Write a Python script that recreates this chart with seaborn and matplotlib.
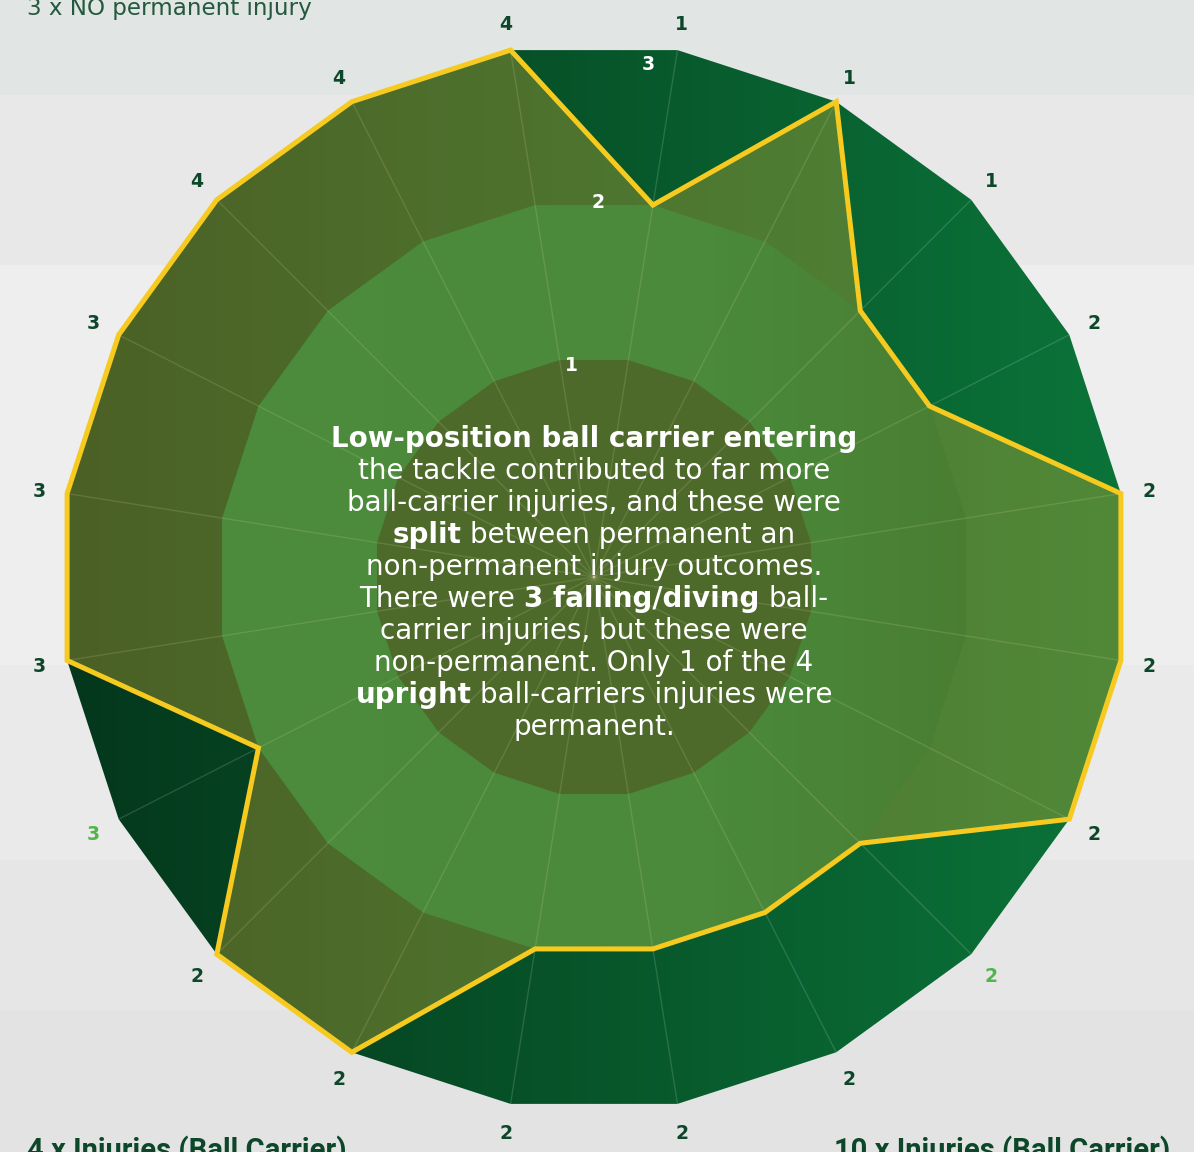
import numpy as np
import pandas as pd
import matplotlib
matplotlib.use("Agg")
import matplotlib.pyplot as plt
import seaborn as sns
from matplotlib.colors import LinearSegmentedColormap
from matplotlib.patches import Polygon

# ~~~~~~~~~~~~~~~~~~~~~~~~~~~~~~~~~~~~~~~~~~~~~~~~~~~~~~~~~~~~~~~~~~~~~~~~~~~~~~~~
# DATA
# ~~~~~~~~~~~~~~~~~~~~~~~~~~~~~~~~~~~~~~~~~~~~~~~~~~~~~~~~~~~~~~~~~~~~~~~~~~~~~~~~
# 20 spokes, clockwise, first one just left of 12 o'clock
axis_labels = ["4", "1", "1", "1", "2", "2", "2", "2", "2", "2",
               "2", "2", "2", "2", "3", "3", "3", "3", "4", "4"]
values = [3, 2, 3, 2, 2, 3, 3, 3, 2, 2,
          2, 2, 3, 3, 2, 3, 3, 3, 3, 3]
highlight_idx = [8, 14]  # labels printed in light green
ring_levels = [1, 2, 3]
r_min = -0.4  # value at the centre of the chart
r_max = 3

top_note = "3 x NO permanent injury"
bottom_left_note = "4 x Injuries (Ball Carrier)"
bottom_right_note = "10 x Injuries (Ball Carrier)"

# (text, bold) pieces for every line of the centre text
centre_text = [
    [("Low-position ball carrier entering", True)],
    [("the tackle contributed to far more", False)],
    [("ball-carrier injuries, and these were", False)],
    [("split", True), ("between permanent an", False)],
    [("non-permanent injury outcomes.", False)],
    [("There were", False), ("3 falling/diving", True), ("ball-", False)],
    [("carrier injuries, but these were", False)],
    [("non-permanent. Only 1 of the 4", False)],
    [("upright", True), ("ball-carriers injuries were", False)],
    [("permanent.", False)],
]

# ~~~~~~~~~~~~~~~~~~~~~~~~~~~~~~~~~~~~~~~~~~~~~~~~~~~~~~~~~~~~~~~~~~~~~~~~~~~~~~~~
# SETUP
# ~~~~~~~~~~~~~~~~~~~~~~~~~~~~~~~~~~~~~~~~~~~~~~~~~~~~~~~~~~~~~~~~~~~~~~~~~~~~~~~~
sns.set_theme(style="white")
plt.rcParams["font.family"] = ["DejaVu Sans"]

W, H = 1194, 1152
S = 156.9          # pixels per value unit
CX, CY = 594, 577  # centre of the radar, in pixels from top-left

fig = plt.figure(figsize=(W / 100, H / 100), dpi=100)
fig.patch.set_facecolor("#e8e8e8")
ax = fig.add_axes([0, 0, 1, 1])
ax.axis("off")


def px_y(y_px):
    return (CY - y_px) / S


n = len(values)
theta = np.deg2rad(-9 + 18 * np.arange(n))


def polar_xy(r_vals, ang):
    rr = np.asarray(r_vals, dtype=float) - r_min
    return rr * np.sin(ang), rr * np.cos(ang)


# background brush bands
for y0, y1, c in [(0, 95, "#e1e5e3"), (95, 265, "#e8e8e8"), (265, 665, "#eeeeee"),
                  (665, 860, "#eaeaea"), (860, 1010, "#e6e6e6"), (1010, H, "#e3e3e3")]:
    ax.axhspan(px_y(y1), px_y(y0), color=c, lw=0, zorder=0)

# ~~~~~~~~~~~~~~~~~~~~~~~~~~~~~~~~~~~~~~~~~~~~~~~~~~~~~~~~~~~~~~~~~~~~~~~~~~~~~~~~
# rings
# ~~~~~~~~~~~~~~~~~~~~~~~~~~~~~~~~~~~~~~~~~~~~~~~~~~~~~~~~~~~~~~~~~~~~~~~~~~~~~~~~
R = r_max - r_min
grad = np.linspace(0, 1, 256).reshape(1, -1)
ring_cmaps = {
    3: LinearSegmentedColormap.from_list("outer", ["#04371c", "#0b7439"]),
    2: LinearSegmentedColormap.from_list("mid", [(0, "#03783d"), (0.6, "#03763c"), (1, "#01582a")]),
}
for lvl, zo in [(3, 1), (2, 2)]:
    gx, gy = polar_xy([lvl] * n, theta)
    clip = Polygon(np.column_stack([gx, gy]), closed=True, fill=False, lw=0)
    ax.add_patch(clip)
    im = ax.imshow(grad, extent=[-R, R, -R, R], cmap=ring_cmaps[lvl],
                   aspect="auto", zorder=zo, interpolation="bilinear")
    im.set_clip_path(clip)

cx_, cy_ = polar_xy([ring_levels[0]] * n, theta)
ax.fill(cx_, cy_, color="#064624", lw=0, zorder=3)

# spokes
for a in theta:
    sx, sy = polar_xy([r_min, r_max], np.array([a, a]))
    ax.plot(sx, sy, color="white", alpha=0.14, lw=1, zorder=4)

# ~~~~~~~~~~~~~~~~~~~~~~~~~~~~~~~~~~~~~~~~~~~~~~~~~~~~~~~~~~~~~~~~~~~~~~~~~~~~~~~~
# data polygon
# ~~~~~~~~~~~~~~~~~~~~~~~~~~~~~~~~~~~~~~~~~~~~~~~~~~~~~~~~~~~~~~~~~~~~~~~~~~~~~~~~
dx, dy = polar_xy(values, theta)
ax.fill(dx, dy, color="#e4b739", alpha=0.32, lw=0, zorder=5)
df = pd.DataFrame({"x": np.append(dx, dx[0]), "y": np.append(dy, dy[0])})
sns.lineplot(data=df, x="x", y="y", sort=False, estimator=None, color="#f7ca20",
             lw=3.6, ax=ax, zorder=6, solid_joinstyle="miter", legend=False)
ax.set_xlabel("")
ax.set_ylabel("")

# spoke labels
lx, ly = polar_xy([r_max + 0.18] * n, theta)
for i, (x, y, lab) in enumerate(zip(lx, ly, axis_labels)):
    ax.text(x, y, lab, ha="center", va="center_baseline", fontsize=13.5, fontweight="heavy",
            color="#52b44b" if i in highlight_idx else "#0c472a", zorder=7)

# radial tick labels
for lvl, ang, off in zip(ring_levels, [-6.0, 0.6, 6.0], [-0.03, 0.0, -0.1]):
    tx, ty = polar_xy([lvl + off], np.deg2rad(ang))
    ax.text(tx[0], ty[0], str(lvl), ha="center", va="center_baseline", fontsize=13.5,
            fontweight="heavy", color="white", zorder=7)

ax.set_xlim(-CX / S, (W - CX) / S)
ax.set_ylim(-(H - CY) / S, CY / S)

# ~~~~~~~~~~~~~~~~~~~~~~~~~~~~~~~~~~~~~~~~~~~~~~~~~~~~~~~~~~~~~~~~~~~~~~~~~~~~~~~~
# text
# ~~~~~~~~~~~~~~~~~~~~~~~~~~~~~~~~~~~~~~~~~~~~~~~~~~~~~~~~~~~~~~~~~~~~~~~~~~~~~~~~
fig.text(27 / W, 1 - 15 / H, top_note, fontsize=16.6, color="#24593f", va="baseline")
fig.text(27 / W, 1 - 1136 / H, bottom_left_note, fontsize=21, fontweight="bold",
         color="#0c472a", va="top", family=["Roboto", "DejaVu Sans"])
fig.text(1170 / W, 1 - 1136 / H, bottom_right_note, fontsize=21, fontweight="bold",
         color="#0c472a", va="top", ha="right", family=["Roboto", "DejaVu Sans"])

renderer = fig.canvas.get_renderer()
fs = 20
t1 = fig.text(0, 0, "a a", fontsize=fs)
t2 = fig.text(0, 0, "aa", fontsize=fs)
space_w = t1.get_window_extent(renderer).width - t2.get_window_extent(renderer).width
t1.remove()
t2.remove()

for i, parts in enumerate(centre_text):
    y_px = 447 + 32 * i
    objs = [fig.text(0, 0, s, fontsize=fs, color="white", va="baseline", zorder=8,
                     fontweight="bold" if b else "normal") for s, b in parts]
    widths = [t.get_window_extent(renderer).width for t in objs]
    x = CX - (sum(widths) + space_w * (len(objs) - 1)) / 2
    for t, w in zip(objs, widths):
        t.set_position((x / W, 1 - y_px / H))
        x += w + space_w

fig.savefig("out.png", dpi=100)
